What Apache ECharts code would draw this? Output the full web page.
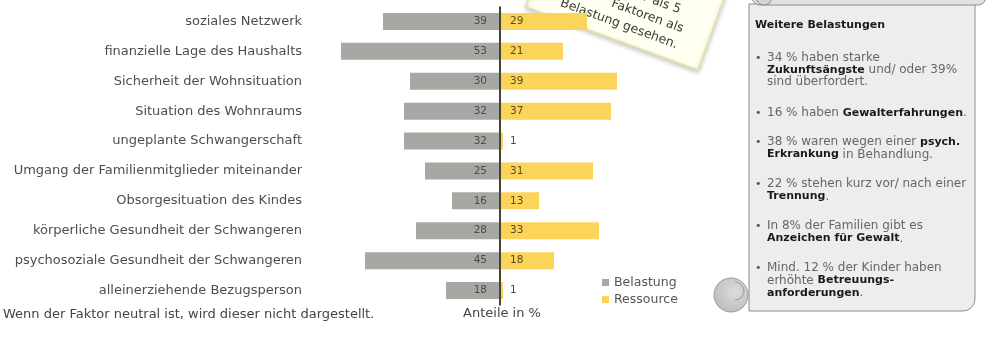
<!DOCTYPE html>
<html><head><meta charset="utf-8">
<script src="https://cdn.jsdelivr.net/npm/echarts@6/dist/echarts.min.js"></script>
<style>html,body{margin:0;padding:0;background:#fff}#c{width:998px;height:338px}</style>
</head><body><div id="c"></div>
<script>
const categories = ['soziales Netzwerk','finanzielle Lage des Haushalts','Sicherheit der Wohnsituation','Situation des Wohnraums','ungeplante Schwangerschaft','Umgang der Familienmitglieder miteinander','Obsorgesituation des Kindes','körperliche Gesundheit der Schwangeren','psychosoziale Gesundheit der Schwangeren','alleinerziehende Bezugsperson'];
const belastung = [39,53,30,32,32,25,16,28,45,18];
const ressource = [29,21,39,37,1,31,13,33,18,1];
const seriesNames = ['Belastung','Ressource'];
const axisTitle = 'Anteile in %';
const footNote = 'Wenn der Faktor neutral ist, wird dieser nicht dargestellt.';
const noteLines = ['mehr als 5','Faktoren als','Belastung gesehen.'];
const panelTitle = 'Weitere Belastungen';
const panelLines = [
  ['b', 58, '34 % haben starke'],
  ['', 70, '{b|Zukunftsängste} und/ oder 39%'],
  ['', 82, 'sind überfordert.'],
  ['b', 113, '16 % haben {b|Gewalterfahrungen}.'],
  ['b', 142, '38 % waren wegen einer {b|psych.}'],
  ['', 154.5, '{b|Erkrankung} in Behandlung.'],
  ['b', 184, '22 % stehen kurz vor/ nach einer'],
  ['', 196.5, '{b|Trennung}.'],
  ['b', 226, 'In 8% der Familien gibt es'],
  ['', 238.5, '{b|Anzeichen für Gewalt}.'],
  ['b', 268, 'Mind. 12 % der Kinder haben'],
  ['', 280.5, 'erhöhte {b|Betreuungs-}'],
  ['', 293, '{b|anforderungen}.']
];
const FF = '"DejaVu Sans"';
const chart = echarts.init(document.getElementById('c'));

const graphics = [];
// sticky note
graphics.push({type:'group', x:526, y:7, rotation:-0.351, z:-10, children:[
  {type:'rect', shape:{x:0,y:-170,width:183,height:170}, style:{fill:'#fffff2', stroke:'#e9e1a0', lineWidth:1.5, shadowBlur:5, shadowColor:'rgba(0,0,0,0.22)', shadowOffsetY:2}},
  {type:'text', x:146, y:-50, style:{text:noteLines[0], align:'right', textAlign:'right', verticalAlign:'middle', textVerticalAlign:'middle', font:'12.5px '+FF, fill:'#3a3a3a'}},
  {type:'text', x:155, y:-33, style:{text:noteLines[1], align:'right', textAlign:'right', verticalAlign:'middle', textVerticalAlign:'middle', font:'12.5px '+FF, fill:'#3a3a3a'}},
  {type:'text', x:155, y:-16, style:{text:noteLines[2], align:'right', textAlign:'right', verticalAlign:'middle', textVerticalAlign:'middle', font:'12.5px '+FF, fill:'#3a3a3a'}}
]});
// panel
graphics.push({type:'rect', shape:{x:749,y:4,width:226,height:307,r:[0,0,12,0]}, style:{fill:'#ededed', stroke:'#8c8c8c', lineWidth:1}});
graphics.push({type:'rect', shape:{x:752,y:-14,width:234,height:19,r:8}, style:{fill:'#e2e2e2', stroke:'#8c8c8c', lineWidth:1}});
graphics.push({type:'circle', shape:{cx:764,cy:-3,r:8}, style:{fill:'#d4d4d4', stroke:'#8c8c8c', lineWidth:1}});
graphics.push({type:'circle', shape:{cx:731,cy:295,r:17}, style:{fill:{type:'radial',x:0.6,y:0.4,r:0.8,colorStops:[{offset:0,color:'#dcdcdc'},{offset:1,color:'#b5b5b5'}]}, stroke:'#9a9a9a', lineWidth:1}});
graphics.push({type:'arc', shape:{cx:735,cy:291,r:9,startAngle:-Math.PI/2,endAngle:Math.PI/2}, style:{fill:null, stroke:'#999', lineWidth:1}});
graphics.push({type:'text', x:755, y:25, style:{text:panelTitle, font:'bold 11px '+FF, fill:'#1a1a1a', verticalAlign:'middle', textVerticalAlign:'middle'}});
panelLines.forEach(l => {
  if (l[0] === 'b') graphics.push({type:'text', x:755, y:l[1], style:{text:'•', font:'11px '+FF, fill:'#555', verticalAlign:'middle', textVerticalAlign:'middle'}});
  graphics.push({type:'text', x:767, y:l[1], style:{text:l[2], font:'12px '+FF, fill:'#666', verticalAlign:'middle', textVerticalAlign:'middle', rich:{b:{font:'bold 11px '+FF, fill:'#1a1a1a'}}}});
});
graphics.push({type:'text', x:502, y:314, style:{text:axisTitle, font:'13px '+FF, fill:'#444', align:'center', textAlign:'center', verticalAlign:'middle', textVerticalAlign:'middle'}});
graphics.push({type:'text', x:3, y:315, style:{text:footNote, font:'13px '+FF, fill:'#444', verticalAlign:'middle', textVerticalAlign:'middle'}});

chart.setOption({
  animation:false,
  grid:{left:320, right:318, top:6.5, height:299, containLabel:false},
  xAxis:{type:'value', min:-60, max:60, show:false},
  yAxis:{type:'category', data:categories, inverse:true, axisLine:{show:false}, axisTick:{show:false}, splitLine:{show:false},
    axisLabel:{margin:18, fontSize:13, fontFamily:'DejaVu Sans', color:'#4d4d4d'}},
  legend:{orient:'vertical', left:597, top:271, itemWidth:7, itemHeight:7, itemGap:4, icon:'rect', data:seriesNames,
    textStyle:{fontSize:12.5, color:'#555', fontFamily:'DejaVu Sans'}},
  graphic:graphics,
  series:[
    {name:seriesNames[0], type:'bar', data:belastung.map(v=>-v), barWidth:17, barGap:'-100%', itemStyle:{color:'#a7a8a4'},
      label:{show:true, position:'insideRight', distance:13, formatter:p=>Math.abs(p.value), color:'#4a4a4a', fontSize:10.5, fontFamily:'DejaVu Sans'},
      markLine:{silent:true, symbol:'none', animation:false, label:{show:false}, lineStyle:{color:'#4a4232', width:2, type:'solid'}, data:[{xAxis:0}]}},
    {name:seriesNames[1], type:'bar', data:ressource, barWidth:17, barGap:'-100%', itemStyle:{color:'#fcd45a'},
      label:{show:true, position:'insideLeft', distance:10, color:'#5a4a1a', fontSize:10.5, fontFamily:'DejaVu Sans'}}
  ]
});
</script></body></html>
